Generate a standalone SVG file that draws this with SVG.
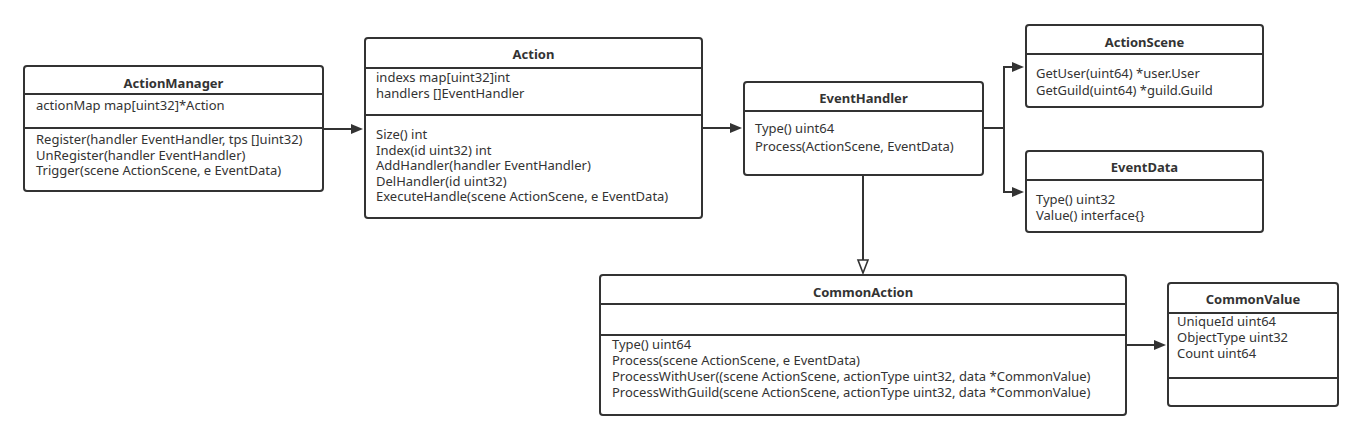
<svg xmlns="http://www.w3.org/2000/svg" width="1362" height="440" viewBox="0 0 1362 440">
<defs>
<style>
.box{fill:#ffffff;stroke:#333333;stroke-width:2}
.div{stroke:#333333;stroke-width:2;fill:none}
.t{font-family:"Noto Sans","Liberation Sans",Arial,sans-serif;font-size:13px;fill:#333333}
.h{font-family:"Noto Sans","Liberation Sans",Arial,sans-serif;font-size:13px;font-weight:bold;fill:#333333;text-anchor:middle}
.c{stroke:#333333;stroke-width:2;fill:none}
</style>
<marker id="arr" markerUnits="userSpaceOnUse" markerWidth="14" markerHeight="12" refX="7" refY="5" orient="auto">
<path d="M0,0 L12,5 L0,10 z" fill="#333333"/>
</marker>
<marker id="tri" markerUnits="userSpaceOnUse" markerWidth="16" markerHeight="14" refX="1" refY="6" orient="auto">
<path d="M1,1 L14,6 L1,11 z" fill="#ffffff" stroke="#333333" stroke-width="1.6"/>
</marker>
</defs>
<rect width="1362" height="440" fill="#ffffff"/>

<g id="connectors">
<path class="c" d="M323,129 H358" marker-end="url(#arr)"/>
<path class="c" d="M702,128 H737" marker-end="url(#arr)"/>
<path class="c" d="M983,128 H1004 V67 H1019" marker-end="url(#arr)"/>
<path class="c" d="M1004,128 V192 H1019" marker-end="url(#arr)"/>
<path class="c" d="M863,175 V260" marker-end="url(#tri)"/>
<path class="c" d="M1126,345 H1161" marker-end="url(#arr)"/>
</g>

<g id="ActionManager">
<rect class="box" x="24" y="66" width="299" height="125" rx="3"/>
<line class="div" x1="24" y1="94" x2="323" y2="94"/>
<line class="div" x1="24" y1="128" x2="323" y2="128"/>
<text class="h" x="173.5" y="87.5">ActionManager</text>
<text class="t" x="36" y="110">actionMap map[uint32]*Action</text>
<text class="t" x="36" y="144">Register(handler EventHandler, tps []uint32)</text>
<text class="t" x="36" y="159.5">UnRegister(handler EventHandler)</text>
<text class="t" x="36" y="175">Trigger(scene ActionScene, e EventData)</text>
</g>

<g id="Action">
<rect class="box" x="365" y="38" width="337" height="180" rx="3"/>
<line class="div" x1="365" y1="68" x2="702" y2="68"/>
<line class="div" x1="365" y1="115" x2="702" y2="115"/>
<text class="h" x="533.5" y="59">Action</text>
<text class="t" x="376" y="82">indexs map[uint32]int</text>
<text class="t" x="376" y="98">handlers []EventHandler</text>
<text class="t" x="376" y="139">Size() int</text>
<text class="t" x="376" y="154.5">Index(id uint32) int</text>
<text class="t" x="376" y="170">AddHandler(handler EventHandler)</text>
<text class="t" x="376" y="185.5">DelHandler(id uint32)</text>
<text class="t" x="376" y="201">ExecuteHandle(scene ActionScene, e EventData)</text>
</g>

<g id="EventHandler">
<rect class="box" x="744" y="82" width="239" height="93" rx="3"/>
<line class="div" x1="744" y1="111" x2="983" y2="111"/>
<text class="h" x="863.5" y="103">EventHandler</text>
<text class="t" x="755" y="133">Type() uint64</text>
<text class="t" x="755" y="150.5">Process(ActionScene, EventData)</text>
</g>

<g id="ActionScene">
<rect class="box" x="1026" y="25" width="237" height="82" rx="3"/>
<line class="div" x1="1026" y1="54" x2="1263" y2="54"/>
<text class="h" x="1144.5" y="46.5">ActionScene</text>
<text class="t" x="1036" y="78">GetUser(uint64) *user.User</text>
<text class="t" x="1036" y="94.5">GetGuild(uint64) *guild.Guild</text>
</g>

<g id="EventData">
<rect class="box" x="1026" y="151" width="237" height="81" rx="3"/>
<line class="div" x1="1026" y1="180" x2="1263" y2="180"/>
<text class="h" x="1144.5" y="171.5">EventData</text>
<text class="t" x="1036" y="204">Type() uint32</text>
<text class="t" x="1036" y="220">Value() interface{}</text>
</g>

<g id="CommonAction">
<rect class="box" x="600" y="275" width="526" height="140" rx="3"/>
<line class="div" x1="600" y1="304" x2="1126" y2="304"/>
<line class="div" x1="600" y1="335" x2="1126" y2="335"/>
<text class="h" x="863" y="296.5">CommonAction</text>
<text class="t" x="612" y="348.5">Type() uint64</text>
<text class="t" x="612" y="364.5">Process(scene ActionScene, e EventData)</text>
<text class="t" x="612" y="380.5">ProcessWithUser((scene ActionScene, actionType uint32, data *CommonValue)</text>
<text class="t" x="612" y="396.5">ProcessWithGuild(scene ActionScene, actionType uint32, data *CommonValue)</text>
</g>

<g id="CommonValue">
<rect class="box" x="1168" y="283" width="170" height="123" rx="3"/>
<line class="div" x1="1168" y1="313" x2="1338" y2="313"/>
<line class="div" x1="1168" y1="378" x2="1338" y2="378"/>
<text class="h" x="1253" y="303.5">CommonValue</text>
<text class="t" x="1177" y="326">UniqueId uint64</text>
<text class="t" x="1177" y="342">ObjectType uint32</text>
<text class="t" x="1177" y="358">Count uint64</text>
</g>
</svg>
